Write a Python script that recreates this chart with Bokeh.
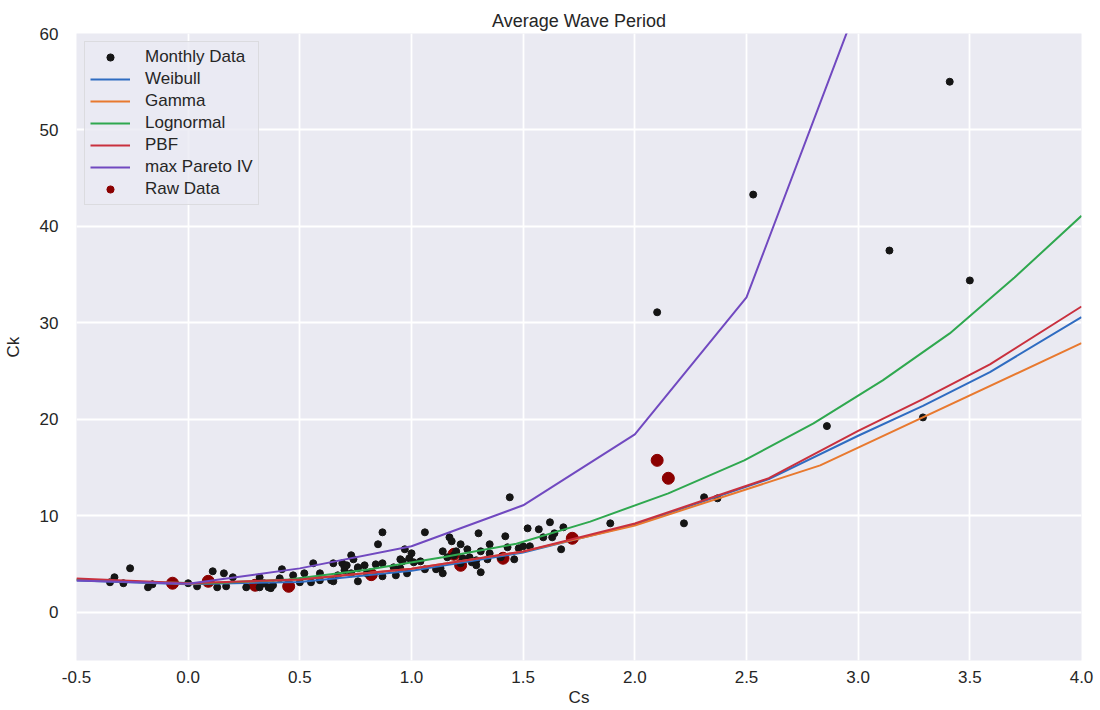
from bokeh.plotting import figure
from bokeh.models import Legend, LegendItem, FixedTicker, CustomJSTickFormatter, Range1d
from bokeh.embed import file_html
from bokeh.resources import INLINE

FONT = "Liberation Sans"
TXT = "#262626"

# ---- data ----
monthly_cs = [-0.35, -0.33, -0.29, -0.26, -0.18, -0.16, 0.00, 0.04, 0.11, 0.13,
              0.16, 0.17, 0.20, 0.26, 0.32, 0.32, 0.34, 0.36, 0.37, 0.38,
              0.41, 0.42, 0.47, 0.50, 0.52, 0.55, 0.56, 0.59, 0.59, 0.64,
              0.65, 0.65, 0.67, 0.69, 0.70, 0.70, 0.71, 0.73, 0.73, 0.74,
              0.76, 0.76, 0.76, 0.79, 0.80, 0.84, 0.85, 0.87, 0.87, 0.87,
              0.92, 0.93, 0.95, 0.95, 0.96, 0.97, 0.98, 0.99, 1.00, 1.01,
              1.04, 1.06, 1.06, 1.11, 1.13, 1.14, 1.14, 1.16, 1.17, 1.18,
              1.19, 1.20, 1.22, 1.22, 1.23, 1.25, 1.26, 1.27, 1.29, 1.29,
              1.30, 1.31, 1.31, 1.34, 1.35, 1.35, 1.40, 1.42, 1.43, 1.44,
              1.46, 1.48, 1.50, 1.52, 1.53, 1.57, 1.59, 1.62, 1.63, 1.64,
              1.67, 1.68, 1.89, 2.10, 2.22, 2.31, 2.37, 2.53, 2.86, 3.14,
              3.29, 3.41, 3.50]
monthly_ck = [3.11, 3.63, 3.01, 4.56, 2.59, 2.90, 3.01, 2.69, 4.25, 2.59,
              4.04, 2.69, 3.63, 2.59, 3.63, 2.59, 3.01, 2.59, 2.50, 2.80,
              3.52, 4.46, 3.83, 3.11, 4.04, 3.11, 5.08, 4.04, 3.32, 3.32,
              3.21, 5.08, 3.83, 5.08, 4.35, 4.66, 4.87, 5.91, 4.04, 5.49,
              4.66, 3.21, 4.56, 4.87, 4.04, 4.97, 7.05, 8.29, 5.08, 3.73,
              4.66, 3.83, 5.49, 4.56, 5.28, 6.53, 4.04, 5.60, 6.11, 5.18,
              5.28, 8.29, 4.46, 4.46, 4.56, 4.04, 6.32, 5.70, 7.77, 7.36,
              5.91, 6.32, 7.05, 5.08, 5.60, 6.53, 5.70, 5.18, 4.87, 5.39,
              8.19, 6.32, 4.15, 5.49, 7.05, 6.11, 5.70, 7.88, 6.74, 11.92,
              5.49, 6.63, 6.84, 8.70, 6.84, 8.60, 7.77, 9.33, 7.77, 8.19,
              6.53, 8.81, 9.22, 31.1, 9.22, 11.92, 11.81, 43.3, 19.3, 37.5,
              20.2, 55.0, 34.4]

raw_cs = [-0.07, 0.09, 0.30, 0.45, 0.82, 1.19, 1.22, 1.41, 1.72, 2.10, 2.15]
raw_ck = [3.01, 3.21, 2.80, 2.69, 3.90, 6.01, 4.87, 5.60, 7.67, 15.75, 13.89]

weibull_cs = [-0.5, 0.0, 0.5, 1.0, 1.5, 2.0, 2.6, 3.0, 3.29, 3.59, 4.0]
weibull_ck = [3.3, 2.9, 3.15, 4.3, 6.2, 9.1, 13.8, 18.3, 21.4, 24.9, 30.6]

gamma_cs = [-0.5, 0.0, 0.5, 1.0, 1.5, 2.0, 2.83, 4.0]
gamma_ck = [3.4, 2.95, 3.4, 4.5, 6.3, 9.0, 15.23, 27.9]

lognormal_cs = [-0.5, -0.2, 0.1, 0.45, 0.8, 1.14, 1.47, 1.80, 2.15, 2.49, 2.80, 3.11, 3.41, 3.70, 4.0]
lognormal_ck = [3.4, 3.1, 3.0, 3.4, 4.4, 5.7, 7.1, 9.4, 12.33, 15.75, 19.59, 24.04, 28.91, 34.7, 41.1]

pbf_cs = [-0.5, 0.0, 0.5, 1.0, 1.5, 2.0, 2.6, 3.0, 3.29, 3.59, 4.0]
pbf_ck = [3.5, 3.0, 3.4, 4.5, 6.3, 9.2, 13.9, 18.8, 22.1, 25.7, 31.7]

pareto_cs = [-0.5, 0.0, 0.5, 1.0, 1.5, 2.0, 2.5, 3.0]
pareto_ck = [3.3, 2.95, 4.55, 6.85, 11.09, 18.45, 32.64, 63.2]

x_ticks = [-0.5, 0.0, 0.5, 1.0, 1.5, 2.0, 2.5, 3.0, 3.5, 4.0]
y_ticks = [0, 10, 20, 30, 40, 50, 60]

# ---- figure ----
p = figure(width=1100, height=710, output_backend="svg", toolbar_location=None,
           x_range=Range1d(-0.5, 4.0), y_range=Range1d(-5, 60),
           min_border_left=76, min_border_right=19, min_border_top=33, min_border_bottom=50,
           background_fill_color="#EAEAF2", border_fill_color="white",
           outline_line_color=None, title="Average Wave Period")

p.title.align = "center"
p.title.text_font = FONT
p.title.text_font_size = "18px"
p.title.text_font_style = "normal"
p.title.text_color = TXT
p.title.standoff = 6

for ax in (p.xaxis[0], p.yaxis[0]):
    ax.axis_line_color = None
    ax.major_tick_line_color = None
    ax.minor_tick_line_color = None
    ax.major_tick_out = 0
    ax.major_tick_in = 0
    ax.minor_tick_out = 0
    ax.minor_tick_in = 0
    ax.major_label_text_font = FONT
    ax.major_label_text_font_size = "17px"
    ax.major_label_text_color = TXT
    ax.axis_label_text_font = FONT
    ax.axis_label_text_font_size = "17px"
    ax.axis_label_text_font_style = "normal"
    ax.axis_label_text_color = TXT

p.xaxis.ticker = FixedTicker(ticks=x_ticks)
p.yaxis.ticker = FixedTicker(ticks=y_ticks)
p.xaxis.formatter = CustomJSTickFormatter(code="return tick.toFixed(1);")
p.xaxis.axis_label = "Cs"
p.yaxis.axis_label = "Ck"
p.xaxis.major_label_standoff = 10
p.yaxis.major_label_standoff = 18
p.xaxis.axis_label_standoff = 2
p.yaxis.axis_label_standoff = 14

p.xgrid.ticker = FixedTicker(ticks=x_ticks)
p.ygrid.ticker = FixedTicker(ticks=y_ticks)
for g in (p.xgrid[0], p.ygrid[0]):
    g.grid_line_color = "white"
    g.grid_line_width = 1.8

r_raw = p.scatter(raw_cs, raw_ck, marker="circle", size=12,
                  fill_color="#8B0000", line_color="#8B0000")
r_month = p.scatter(monthly_cs, monthly_ck, marker="circle", size=7,
                    fill_color="#151515", line_color="#151515")

lw = 2
r_w = p.line(weibull_cs, weibull_ck, line_color="#2f6cc1", line_width=lw)
r_g = p.line(gamma_cs, gamma_ck, line_color="#e8792f", line_width=lw)
r_l = p.line(lognormal_cs, lognormal_ck, line_color="#2fa84f", line_width=lw)
r_p = p.line(pbf_cs, pbf_ck, line_color="#c9303e", line_width=lw)
r_m = p.line(pareto_cs, pareto_ck, line_color="#7149c0", line_width=lw)

legend = Legend(items=[
    LegendItem(label="Monthly Data", renderers=[r_month]),
    LegendItem(label="Weibull", renderers=[r_w]),
    LegendItem(label="Gamma", renderers=[r_g]),
    LegendItem(label="Lognormal", renderers=[r_l]),
    LegendItem(label="PBF", renderers=[r_p]),
    LegendItem(label="max Pareto IV", renderers=[r_m]),
    LegendItem(label="Raw Data", renderers=[r_raw]),
], location="top_left")
legend.margin = 8
legend.padding = 5
legend.spacing = 2
legend.glyph_width = 40
legend.glyph_height = 18
legend.label_height = 18
legend.label_standoff = 15
legend.label_text_font = FONT
legend.label_text_font_size = "17px"
legend.label_text_color = TXT
legend.background_fill_color = "#EAEAF2"
legend.background_fill_alpha = 0.8
legend.border_line_color = "#cccccc"
legend.border_line_width = 1
p.add_layout(legend)

open("out.html", "w").write(file_html(p, INLINE))
